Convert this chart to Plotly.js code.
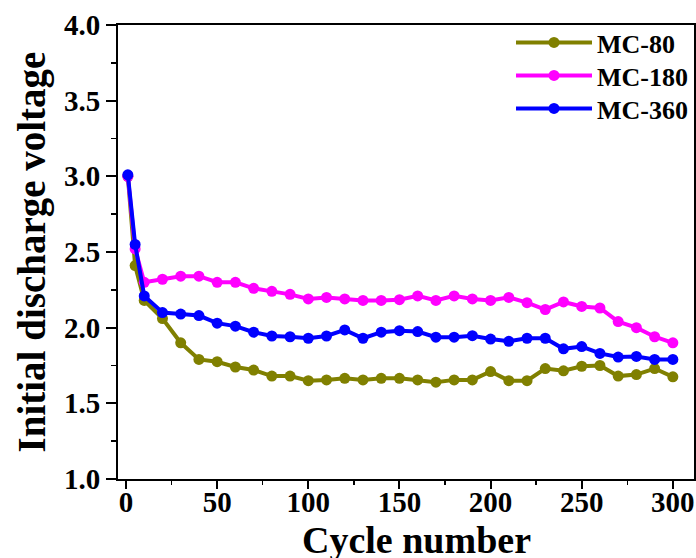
<!DOCTYPE html>
<html>
<head>
<meta charset="utf-8">
<script src="https://cdn.plot.ly/plotly-3.0.1.min.js"></script>
<style>html,body{margin:0;padding:0;background:#fff;}#chart{width:696px;height:558px;}</style>
</head>
<body>
<div id="chart"></div>
<script>
var cycles = [1, 5, 10, 20, 30, 40, 50, 60, 70, 80, 90, 100, 110, 120, 130, 140, 150,
  160, 170, 180, 190, 200, 210, 220, 230, 240, 250, 260, 270, 280, 290, 300];
var mc80 = [3.0, 2.41, 2.18, 2.06, 1.90, 1.79, 1.775, 1.74, 1.72, 1.68, 1.68, 1.65, 1.655, 1.665, 1.655, 1.665, 1.665,
  1.655, 1.64, 1.655, 1.655, 1.71, 1.65, 1.65, 1.73, 1.715, 1.745, 1.75, 1.68, 1.69, 1.73, 1.675];
var mc180 = [3.0, 2.52, 2.30, 2.32, 2.34, 2.34, 2.30, 2.30, 2.26, 2.24, 2.22, 2.19, 2.20, 2.19, 2.18, 2.18, 2.185,
  2.21, 2.18, 2.21, 2.19, 2.18, 2.20, 2.165, 2.12, 2.17, 2.14, 2.13, 2.04, 2.00, 1.94, 1.90];
var mc360 = [3.01, 2.55, 2.21, 2.10, 2.09, 2.08, 2.03, 2.01, 1.97, 1.945, 1.94, 1.93, 1.945, 1.985, 1.93, 1.97, 1.98,
  1.974, 1.937, 1.937, 1.947, 1.925, 1.91, 1.93, 1.93, 1.86, 1.875, 1.83, 1.806, 1.81, 1.79, 1.79];
var seriesNames = ['MC-80', 'MC-180', 'MC-360'];
var seriesColors = ['#808000', '#ff00ff', '#0000ff'];
var seriesData = [mc80, mc180, mc360];
var legendIds = ['legend', 'legend2', 'legend3'];
var legendY = [1.0132, 0.9405, 0.8678];

var fontFam = '"Liberation Serif", "Times New Roman", serif';
var traces = seriesData.map(function (ys, i) {
  return {
    x: cycles, y: ys, name: seriesNames[i], type: 'scatter', mode: 'lines+markers',
    legend: legendIds[i],
    line: {color: seriesColors[i], width: 4},
    marker: {color: seriesColors[i], size: 11}
  };
});

var layout = {
  width: 696, height: 558,
  margin: {l: 118, r: 2, t: 25, b: 79},
  paper_bgcolor: '#fff', plot_bgcolor: '#fff',
  font: {family: fontFam, color: '#000', weight: 'bold'},
  showlegend: true,
  xaxis: {
    range: [-4.4, 311.6], tickvals: [0, 50, 100, 150, 200, 250, 300],
    ticks: 'outside', ticklen: 8, tickwidth: 2, tickcolor: '#000',
    minor: {dtick: 25, tick0: 0, ticks: 'outside', ticklen: 4, tickwidth: 1.5, tickcolor: '#000'},
    showline: true, linecolor: '#000', linewidth: 2, mirror: true,
    showgrid: false, zeroline: false, ticklabelstandoff: -12,
    tickfont: {family: fontFam, size: 29, color: '#000', weight: 'bold'}
  },
  yaxis: {
    range: [1, 4], dtick: 0.5, tick0: 1, tickformat: '.1f',
    ticks: 'outside', ticklen: 10, tickwidth: 2, tickcolor: '#000',
    minor: {dtick: 0.25, tick0: 1, ticks: 'outside', ticklen: 5, tickwidth: 1.5, tickcolor: '#000'},
    showline: true, linecolor: '#000', linewidth: 2, mirror: true,
    showgrid: false, zeroline: false,
    tickfont: {family: fontFam, size: 29, color: '#000', weight: 'bold'},
    title: {text: 'Initial discharge voltage', font: {family: fontFam, size: 39, color: '#000', weight: 'bold'}, standoff: 6}
  },
  annotations: [{
    text: 'Cycle number', xref: 'paper', yref: 'paper', x: 0.519, y: -0.134,
    xanchor: 'center', yanchor: 'middle', showarrow: false,
    font: {family: fontFam, size: 38, color: '#000', weight: 'bold'}
  }]
};
legendIds.forEach(function (id, i) {
  layout[id] = {
    x: 0.6823, xanchor: 'left', y: legendY[i], yanchor: 'top',
    bgcolor: 'rgba(0,0,0,0)', borderwidth: 0,
    font: {family: fontFam, size: 26, color: '#000', weight: 'bold'},
    itemwidth: 76
  };
});

Plotly.newPlot('chart', traces, layout, {displayModeBar: false, staticPlot: true});
</script>
</body>
</html>
